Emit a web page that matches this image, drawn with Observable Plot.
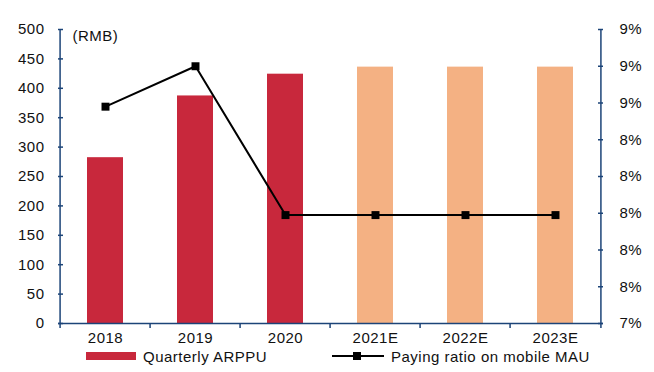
<!DOCTYPE html>
<html>
<head>
<meta charset="utf-8">
<script src="https://cdn.jsdelivr.net/npm/d3@7"></script>
<script src="https://cdn.jsdelivr.net/npm/@observablehq/plot@0.6"></script>
<style>
  html, body { margin: 0; padding: 0; background: #fff; }
  body { width: 654px; height: 372px; overflow: hidden; font-family: "Liberation Sans", Arial, sans-serif; }
  #legend { position: relative; width: 654px; height: 27px; font-size: 15px; color: #111; letter-spacing: 0.5px; }
  #legend .sw { position: absolute; }
  #legend .tx { position: absolute; line-height: 15px; white-space: nowrap; }
</style>
</head>
<body>
<div id="chart"></div>
<div id="legend"></div>
<script>
const categories = ["2018", "2019", "2020", "2021E", "2022E", "2023E"];
const arppu = [282, 387, 424, 436, 436, 436];
const payingRatio = [8.58, 8.80, 7.99, 7.99, 7.99, 7.99];
const leftTicks = [0, 50, 100, 150, 200, 250, 300, 350, 400, 450, 500];
const rightTicks = [7.4, 7.6, 7.8, 8.0, 8.2, 8.4, 8.6, 8.8, 9.0];
const rightTickLabels = ["7%", "8%", "8%", "8%", "8%", "8%", "9%", "9%", "9%"];
const unitLabel = "(RMB)";
const seriesNames = ["Quarterly ARPPU", "Paying ratio on mobile MAU"];

const W = 654, H = 345, ML = 58, MR = 51, MT = 29, MB = 22;
const step = (W - ML - MR) / categories.length;
const axisColor = "#1c4478";
const red = "#c8283c", orange = "#f4b183";
const fontFamily = "'Liberation Sans', Arial, sans-serif";

const rMin = rightTicks[0], rMax = rightTicks[rightTicks.length - 1];
const yMax = leftTicks[leftTicks.length - 1];
const toLeft = p => (p - rMin) / (rMax - rMin) * yMax;

const bars = categories.map((c, i) => ({cat: c, value: arppu[i]}));
const ratio = categories.map((c, i) => ({cat: c, value: payingRatio[i]}));
const lastCat = categories[categories.length - 1];

const chart = Plot.plot({
  width: W, height: H,
  marginLeft: ML, marginRight: MR, marginTop: MT, marginBottom: MB,
  style: {fontFamily, fontSize: "15px", color: "#111", background: "#fff", letterSpacing: "0.5px"},
  x: {type: "band", domain: categories, paddingInner: 0.6, paddingOuter: 0.3},
  y: {domain: [0, yMax]},
  marks: [
    Plot.barY(bars, {x: "cat", y: "value", fill: d => d.cat.endsWith("E") ? orange : red}),
    Plot.ruleY([0], {stroke: axisColor, strokeWidth: 1.5}),
    Plot.ruleX([categories[0]], {x: d => d, y1: 0, y2: yMax, dx: -step / 2, stroke: axisColor, strokeWidth: 1.5}),
    Plot.ruleX([lastCat], {x: d => d, y1: 0, y2: yMax, dx: step / 2, stroke: axisColor, strokeWidth: 1.5}),
    Plot.ruleX(categories, {x: d => d, y1: 0, y2: 0, dx: -step / 2, insetBottom: -5, stroke: axisColor, strokeWidth: 1.5}),
    Plot.ruleX([lastCat], {x: d => d, y1: 0, y2: 0, dx: step / 2, insetBottom: -5, stroke: axisColor, strokeWidth: 1.5}),
    Plot.tickY(leftTicks, {y: d => d, insetRight: W - ML - MR - 5, stroke: axisColor, strokeWidth: 1.5}),
    Plot.tickY(rightTicks, {y: d => toLeft(d), insetLeft: W - ML - MR - 5, stroke: axisColor, strokeWidth: 1.5}),
    Plot.axisX({tickSize: 0, tickPadding: 9, label: null, fontSize: 15}),
    Plot.axisY({anchor: "left", ticks: leftTicks, tickSize: 0, tickPadding: 14, label: null, fontSize: 15}),
    Plot.axisY(rightTicks.map(toLeft), {anchor: "right", tickSize: 0, tickPadding: 16, label: null, fontSize: 15,
      tickFormat: (d, i) => rightTickLabels[i]}),
    Plot.line(ratio, {x: "cat", y: d => toLeft(d.value), stroke: "#000", strokeWidth: 2}),
    Plot.dot(ratio, {x: "cat", y: d => toLeft(d.value), symbol: "square", r: 4.5, fill: "#000", stroke: null}),
    Plot.text([unitLabel], {frameAnchor: "top-left", text: d => d, dx: 14, dy: 1, textAnchor: "start", fontSize: 15, fill: "#111"})
  ]
});
document.getElementById("chart").appendChild(chart);

const legend = document.getElementById("legend");
legend.innerHTML = `
  <div class="sw" style="left:86px;top:7px;width:50px;height:8px;background:${red}"></div>
  <div class="tx" style="left:143px;top:4px">${seriesNames[0]}</div>
  <svg class="sw" style="left:330px;top:5px" width="56" height="12">
    <line x1="2" y1="6" x2="54" y2="6" stroke="#000" stroke-width="2"/>
    <rect x="23" y="2" width="8" height="8" fill="#000"/>
  </svg>
  <div class="tx" style="left:391px;top:4px">${seriesNames[1]}</div>
`;
</script>
</body>
</html>
